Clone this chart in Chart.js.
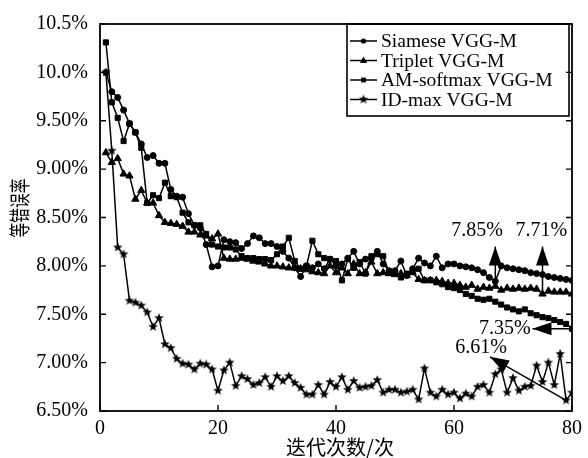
<!DOCTYPE html>
<html><head><meta charset="utf-8">
<script src="https://cdn.jsdelivr.net/npm/chart.js@4.4.0/dist/chart.umd.min.js"></script>
<style>html,body{margin:0;padding:0;background:#fff;}</style>
</head><body>
<canvas id="c" width="588" height="458"></canvas>
<script>
const iterations = [1,2,3,4,5,6,7,8,9,10,11,12,13,14,15,16,17,18,19,20,21,22,23,24,25,26,27,28,29,30,31,32,33,34,35,36,37,38,39,40,41,42,43,44,45,46,47,48,49,50,51,52,53,54,55,56,57,58,59,60,61,62,63,64,65,66,67,68,69,70,71,72,73,74,75,76,77,78,79,80];
const siamese = [10.0,9.80,9.74,9.61,9.47,9.38,9.26,9.12,9.14,9.06,9.06,8.79,8.72,8.71,8.54,8.42,8.39,8.22,7.99,8.00,8.27,8.25,8.24,8.18,8.23,8.31,8.29,8.23,8.23,8.20,8.15,8.08,7.98,7.89,8.00,7.98,8.02,7.97,8.07,8.00,8.02,8.08,8.15,8.02,8.07,8.08,8.15,8.02,7.95,7.95,8.05,7.90,7.97,8.08,8.03,8.00,8.10,7.98,8.02,8.02,8.00,7.99,7.98,7.96,7.93,7.88,7.84,8.00,7.98,7.97,7.96,7.95,7.93,7.92,7.91,7.89,7.88,7.87,7.86,7.85];
const triplet = [9.17,9.07,9.11,8.95,8.93,8.69,8.78,8.65,8.65,8.52,8.45,8.44,8.43,8.41,8.35,8.35,8.32,8.31,8.28,8.33,8.08,8.07,8.07,8.08,8.07,8.05,8.04,8.02,8.00,8.00,7.99,7.98,7.98,7.97,7.96,7.94,7.93,7.92,8.00,7.93,7.98,7.92,8.02,7.92,7.93,8.04,7.92,7.93,7.92,7.91,7.92,7.90,7.93,7.86,7.85,7.85,7.85,7.84,7.82,7.82,7.80,7.78,7.80,7.76,7.78,7.77,7.79,7.75,7.77,7.76,7.77,7.76,7.77,7.76,7.71,7.74,7.73,7.73,7.73,7.71];
const amSoftmax = [10.31,9.69,9.53,9.29,9.47,9.38,9.22,8.65,8.73,8.70,8.86,8.72,8.71,8.55,8.45,8.42,8.42,8.33,8.22,8.20,8.19,8.19,8.17,8.10,8.08,8.08,8.07,8.07,8.06,8.12,8.20,8.29,8.05,7.97,8.00,8.26,8.12,8.08,8.07,8.05,7.85,8.07,7.98,8.04,7.92,8.10,8.12,8.10,7.93,7.93,7.88,7.92,7.95,7.97,7.85,7.85,7.83,7.81,7.78,7.77,7.75,7.71,7.69,7.66,7.65,7.66,7.63,7.60,7.57,7.55,7.53,7.55,7.51,7.49,7.47,7.46,7.44,7.42,7.40,7.35];
const idMax = [10.0,9.19,8.19,8.12,7.64,7.62,7.59,7.52,7.37,7.46,7.19,7.15,7.04,6.99,6.98,6.93,6.99,6.98,6.93,6.71,6.92,7.00,6.76,6.86,6.83,6.77,6.79,6.85,6.75,6.86,6.81,6.86,6.79,6.74,6.67,6.67,6.77,6.67,6.80,6.75,6.85,6.72,6.81,6.74,6.75,6.76,6.82,6.69,6.72,6.72,6.69,6.70,6.72,6.62,6.94,6.69,6.65,6.72,6.67,6.69,6.63,6.68,6.65,6.75,6.77,6.69,6.88,6.93,6.69,6.84,6.71,6.75,6.76,6.97,6.80,7.00,6.77,7.09,6.61,6.69];
const seriesNames = ['Siamese VGG-M','Triplet VGG-M','AM-softmax VGG-M','ID-max VGG-M'];
const xTickValues = [0,20,40,60,80];
const yTickValues = [6.5,7.0,7.5,8.0,8.5,9.0,9.5,10.0,10.5];
const yTickLabels = ['6.50%','7.00%','7.50%','8.00%','8.50%','9.00%','9.50%','10.0%','10.5%'];
const xTitle = '迭代次数/次';
const yTitle = '等错误率';
// annotation: label, arrow tail (data), arrow tip (data), label position (data)
const annotations = [
  {text:'7.85%', tail:[67,7.84], tip:[67,8.20], at:[63.9,8.36]},
  {text:'7.71%', tail:[75,7.71], tip:[75,8.20], at:[74.8,8.36]},
  {text:'7.35%', tail:[80,7.35], tip:[73.3,7.35], at:[68.6,7.35]},
  {text:'6.61%', tail:[79,6.61], tip:[66.1,7.06], at:[64.6,7.15]}
];

function makeStar(r){
  const s = Math.ceil(r*2+2);
  const c = document.createElement('canvas'); c.width = s; c.height = s;
  const g = c.getContext('2d');
  g.beginPath();
  for(let k=0;k<10;k++){
    const rr = k%2 ? r*0.42 : r;
    const a = -Math.PI/2 + k*Math.PI/5;
    g.lineTo(s/2 + rr*Math.cos(a), s/2 + rr*Math.sin(a));
  }
  g.closePath(); g.fillStyle = '#000'; g.fill();
  return c;
}
const starImg = makeStar(5);

const styles = [
  {pointStyle:'circle', pointRadius:3},
  {pointStyle:'triangle', pointRadius:4.2},
  {pointStyle:'rect', pointRadius:3.6},
  {pointStyle:starImg, pointRadius:5}
];
const allSeries = [siamese, triplet, amSoftmax, idMax];

const datasets = allSeries.map((vals, k) => ({
  label: seriesNames[k],
  data: vals.map((v,i) => ({x: iterations[i], y: v})),
  borderColor:'#000', backgroundColor:'#000', borderWidth:1.5,
  pointStyle: styles[k].pointStyle, pointRadius: styles[k].pointRadius,
  pointBorderWidth: 1, pointBackgroundColor:'#000', pointBorderColor:'#000',
  fill:false, tension:0
}));

const SERIF = '"Liberation Serif","DejaVu Serif",serif';
const CJK = '"Noto Sans CJK SC","Noto Sans CJK JP",sans-serif';

function arrowHead(ctx, x1, y1, x2, y2, len, half){
  const a = Math.atan2(y2-y1, x2-x1);
  ctx.beginPath();
  ctx.moveTo(x2, y2);
  ctx.lineTo(x2 - len*Math.cos(a) + half*Math.sin(a), y2 - len*Math.sin(a) - half*Math.cos(a));
  ctx.lineTo(x2 - len*Math.cos(a) - half*Math.sin(a), y2 - len*Math.sin(a) + half*Math.cos(a));
  ctx.closePath(); ctx.fill();
}

const decor = {
  id:'decor',
  afterDraw(chart){
    const ctx = chart.ctx, xs = chart.scales.x, ys = chart.scales.y, a = chart.chartArea;
    ctx.save();
    ctx.strokeStyle = '#000'; ctx.fillStyle = '#000';
    // frame
    ctx.lineWidth = 1.8;
    ctx.strokeRect(a.left, a.top, a.right - a.left, a.bottom - a.top);
    // inward ticks
    ctx.lineWidth = 1.4;
    ctx.beginPath();
    yTickValues.forEach(v => {
      const y = ys.getPixelForValue(v);
      ctx.moveTo(a.left, y); ctx.lineTo(a.left + 6, y);
      ctx.moveTo(a.right, y); ctx.lineTo(a.right - 6, y);
    });
    xTickValues.forEach(v => {
      const x = xs.getPixelForValue(v);
      ctx.moveTo(x, a.bottom); ctx.lineTo(x, a.bottom - 6);
    });
    ctx.stroke();
    // annotations
    ctx.font = '20px ' + SERIF; ctx.textAlign = 'center'; ctx.textBaseline = 'middle';
    annotations.forEach(an => {
      const tx = xs.getPixelForValue(an.tail[0]), ty = ys.getPixelForValue(an.tail[1]);
      const hx = xs.getPixelForValue(an.tip[0]), hy = ys.getPixelForValue(an.tip[1]);
      ctx.lineWidth = 1.5;
      ctx.beginPath(); ctx.moveTo(tx, ty); ctx.lineTo(hx, hy); ctx.stroke();
      arrowHead(ctx, tx, ty, hx, hy, 19, 6.5);
      ctx.fillText(an.text, xs.getPixelForValue(an.at[0]), ys.getPixelForValue(an.at[1]));
    });
    // legend
    const lx = 347, ly = 24, lw = 222, lh = 92;
    ctx.lineWidth = 1.6;
    ctx.strokeRect(lx, ly, lw, lh);
    ctx.textAlign = 'left'; ctx.font = '19.5px ' + SERIF;
    seriesNames.forEach((name, k) => {
      const y = ly + 17 + k*19.5;
      ctx.lineWidth = 1.5;
      ctx.beginPath(); ctx.moveTo(lx + 3, y); ctx.lineTo(lx + 30, y); ctx.stroke();
      const mx = lx + 16.5;
      const st = styles[k].pointStyle;
      if (st === 'circle'){ ctx.beginPath(); ctx.arc(mx, y, 2.6, 0, Math.PI*2); ctx.fill(); }
      else if (st === 'triangle'){ ctx.beginPath(); ctx.moveTo(mx, y-4); ctx.lineTo(mx+3.6, y+2.5); ctx.lineTo(mx-3.6, y+2.5); ctx.closePath(); ctx.fill(); }
      else if (st === 'rect'){ ctx.fillRect(mx-2.4, y-2.4, 4.8, 4.8); }
      else { ctx.drawImage(starImg, mx - starImg.width/2, y - starImg.height/2); }
      ctx.fillText(name, lx + 34, y + 1);
    });
    // axis titles
    ctx.textAlign = 'center';
    ctx.font = '20px ' + CJK;
    ctx.fillText(xTitle, 340, 447);
    ctx.save();
    ctx.translate(19, 208); ctx.rotate(-Math.PI/2); ctx.scale(0.7, 1);
    ctx.font = '21px ' + CJK;
    ctx.fillText(yTitle, 0, 0);
    ctx.restore();
    ctx.restore();
  }
};

new Chart(document.getElementById('c'), {
  type:'line',
  data:{datasets},
  options:{
    responsive:false, animation:false, devicePixelRatio:1,
    layout:{padding:{left:0, right:9, top:13, bottom:0}},
    plugins:{legend:{display:false}, tooltip:{enabled:false}},
    scales:{
      x:{type:'linear', min:0, max:80,
        afterBuildTicks(s){ s.ticks = xTickValues.map(v => ({value:v})); },
        afterFit(s){ s.height = 47; },
        grid:{display:false, drawTicks:false}, border:{display:false},
        ticks:{color:'#000', padding:6, maxRotation:0, font:{family:SERIF, size:20}}
      },
      y:{type:'linear', min:6.5, max:10.5,
        afterBuildTicks(s){ s.ticks = yTickValues.map(v => ({value:v})); },
        afterFit(s){ s.width = 100; },
        grid:{display:false, drawTicks:false}, border:{display:false},
        ticks:{color:'#000', padding:12, font:{family:SERIF, size:20},
          callback(v){ const i = yTickValues.indexOf(v); return i >= 0 ? yTickLabels[i] : ''; }}
      }
    }
  },
  plugins:[decor]
});
</script>
</body></html>
